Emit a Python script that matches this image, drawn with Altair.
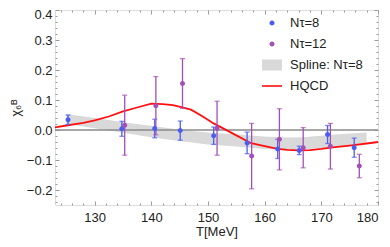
import altair as alt
import pandas as pd

# ---------------- data ----------------
T8 = [125.3, 134.8, 140.6, 145.1, 151.0, 156.9, 162.3, 166.1, 171.1, 175.8]
chi8 = [0.034, 0.004, 0.005, -0.002, -0.019, -0.043, -0.063, -0.068, -0.015, -0.059]
err8 = [0.016, 0.025, 0.031, 0.032, 0.029, 0.036, 0.032, 0.014, 0.030, 0.032]

T12 = [135.3, 140.8, 145.5, 151.6, 157.7, 162.6, 166.8, 171.6, 176.7]
chi12 = [0.016, 0.081, 0.155, 0.006, -0.087, -0.031, -0.059, -0.054, -0.120]
err12 = [0.100, 0.097, 0.083, 0.090, 0.109, 0.102, 0.067, 0.076, 0.039]

spline_T = [125, 130, 135, 140, 145, 150, 155, 160, 165, 170, 175, 178]
spline_lo = [0.020, 0.006, -0.009, -0.024, -0.037, -0.048, -0.055, -0.063, -0.066, -0.060, -0.050, -0.042]
spline_hi = [0.053, 0.040, 0.026, 0.014, 0.001, -0.008, -0.014, -0.022, -0.025, -0.019, -0.012, -0.008]

hqcd_T = [123, 125, 128, 130, 132.5, 135, 137.5, 140, 142, 143.8, 145.3, 147, 149, 151, 153,
          155, 157.6, 160, 162.3, 164, 166, 168, 170, 172, 175, 178, 180]
hqcd_chi = [0.009, 0.015, 0.024, 0.032, 0.045, 0.062, 0.075, 0.088, 0.086, 0.083, 0.076, 0.068,
            0.046, 0.022, 0.002, -0.018, -0.044, -0.054, -0.063, -0.066, -0.068, -0.067, -0.063,
            -0.058, -0.052, -0.045, -0.040]

series = ["N\u03c4=8", "N\u03c4=12", "Spline: N\u03c4=8", "HQCD"]
colors = ["#4b5cf2", "#a24fb8", "#d9d9d9", "#ff1010"]

x_major = [130, 140, 150, 160, 170, 180]
x_minor = [124, 126, 128, 132, 134, 136, 138, 142, 144, 146, 148, 152, 154, 156, 158,
           162, 164, 166, 168, 172, 174, 176, 178]
y_major = [-0.2, -0.1, 0.0, 0.1, 0.2, 0.3, 0.4]
y_minor = [-0.24, -0.22, -0.18, -0.16, -0.14, -0.12, -0.08, -0.06, -0.04, -0.02,
           0.02, 0.04, 0.06, 0.08, 0.12, 0.14, 0.16, 0.18, 0.22, 0.24, 0.26, 0.28,
           0.32, 0.34, 0.36, 0.38]

# ---------------- tables ----------------
pts = pd.DataFrame({
    "T": T8 + T12,
    "chi": chi8 + chi12,
    "err": err8 + err12,
    "series": [series[0]] * len(T8) + [series[1]] * len(T12),
})
pts["lo"] = pts["chi"] - pts["err"]
pts["hi"] = pts["chi"] + pts["err"]
pts8 = pts[pts["series"] == series[0]]
pts12 = pts[pts["series"] == series[1]]

band = pd.DataFrame({"T": spline_T, "lo": spline_lo, "hi": spline_hi})
hqcd = pd.DataFrame({"T": hqcd_T, "chi": hqcd_chi})
zero = pd.DataFrame({"T": [123], "T2": [180], "v": [0.0]})

FONT = "Liberation Sans"
TICK = "#9a9a9a"
xs = alt.Scale(domain=[123, 180], nice=False, zero=False)
ys = alt.Scale(domain=[-0.25, 0.4], nice=False, zero=False)


def ax(orient, values, size, labels=False, fmt=None, title_pad=None, **extra):
    kw = dict(orient=orient, values=values, tickSize=size, offset=-size, domain=False,
              grid=False, labels=labels, ticks=True, tickColor=TICK, tickWidth=1)
    if labels:
        kw.update(labelFont=FONT, labelFontSize=13, labelColor="#222", format=fmt,
                  labelPadding=6 if orient == "bottom" else 3,
                  titleFont=FONT, titleFontSize=13, titleColor="#222",
                  titleFontWeight="normal", titlePadding=title_pad)
    kw.update(extra)
    return alt.Axis(**kw)


circle = "M-0.25,0A0.25,0.25,0,1,0,0.25,0A0.25,0.25,0,1,0,-0.25,0Z"
rect = "M-1,-0.55L1,-0.55L1,0.55L-1,0.55Z"
stroke = "M-1,-0.08L1,-0.08L1,0.08L-1,0.08Z"

band_layer = alt.Chart(band).mark_area(color=colors[2], interpolate="monotone").encode(
    x=alt.X("T:Q", scale=xs, title="T[MeV]", axis=ax("bottom", x_major, 4, True, "d", 1)),
    y=alt.Y("lo:Q", scale=ys, title="\u03c7\u2086\u1d2e",
            axis=ax("left", y_major, 4, True, ".1f", 4, labelFlush=True, labelFlushOffset=2)),
    y2="hi:Q",
)

zero_layer = alt.Chart(zero).mark_rule(color="#8a8a8a", strokeWidth=1.5).encode(
    x=alt.X("T:Q", scale=xs, title=None, axis=ax("bottom", x_minor, 2)),
    x2="T2:Q",
    y=alt.Y("v:Q", scale=ys, title=None, axis=ax("left", y_minor, 2)),
)

line_layer = alt.Chart(hqcd).mark_line(color=colors[3], strokeWidth=1.8).encode(
    x=alt.X("T:Q", scale=xs, title=None, axis=ax("top", x_major, 4)),
    y=alt.Y("chi:Q", scale=ys, title=None, axis=ax("right", y_major, 4)),
)


def errbars(df, color):
    return alt.Chart(df).mark_errorbar(ticks=True, size=5, thickness=1.3, color=color).encode(
        x=alt.X("T:Q", scale=xs, title=None, axis=None),
        y=alt.Y("lo:Q", scale=ys, title=None, axis=None),
        y2="hi:Q",
    )


point_layer = alt.Chart(pts).mark_point(filled=True, size=400, opacity=1, strokeWidth=0).encode(
    x=alt.X("T:Q", scale=xs, title=None, axis=ax("top", x_minor, 2)),
    y=alt.Y("chi:Q", scale=ys, title=None, axis=ax("right", y_minor, 2)),
    color=alt.Color("series:N", scale=alt.Scale(domain=series, range=colors),
                    legend=alt.Legend(orient="none", legendX=207, legendY=3, title=None,
                                      symbolSize=400, labelFont=FONT, labelFontSize=13,
                                      labelColor="#222", labelOffset=8, rowPadding=4,
                                      padding=0, symbolStrokeWidth=0, symbolOpacity=1)),
    shape=alt.Shape("series:N", scale=alt.Scale(domain=series, range=[circle, circle, rect, stroke])),
)

chart = alt.layer(
    band_layer, zero_layer, line_layer,
    errbars(pts8, colors[0]), errbars(pts12, colors[1]), point_layer,
).resolve_axis(x="independent", y="independent").properties(
    width=323, height=195,
    padding={"left": 47, "top": 2, "right": 4, "bottom": 34},
    autosize=alt.AutoSizeParams(type="none"),
).configure_view(stroke="#a6a6a6", strokeWidth=1).configure(background="white")

chart.save("out.html", embed_options={"renderer": "svg", "actions": False})
